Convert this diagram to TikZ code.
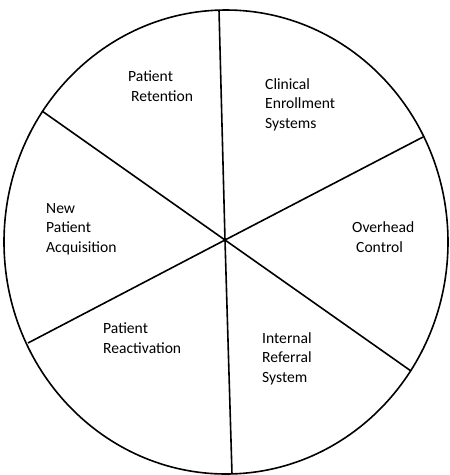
\documentclass[tikz,border=0pt]{standalone}
\usepackage{fontspec}
\setmainfont{Carlito}
\begin{document}
\begin{tikzpicture}[x=1pt,y=-1pt,
  rim/.style={line width=1.6pt},
  spoke/.style={line width=1.6pt},
  lbl/.style={anchor=base west,inner sep=0pt,align=left,
    font=\fontsize{15.6}{19.5}\selectfont}]
\useasboundingbox (0,0) rectangle (450,475);
\draw[rim] (226,242) ellipse [x radius=222, y radius=232];
\coordinate (c) at (225,240);
\coordinate (pt) at (219,10);
\coordinate (pb) at (232,474);
\coordinate (pul) at (42,111);
\coordinate (pll) at (28,343);
\coordinate (pur) at (423,137);
\coordinate (plr) at (411,371);
\draw[spoke] (c) -- (pt);
\draw[spoke] (c) -- (pb);
\draw[spoke] (c) -- (pul);
\draw[spoke] (c) -- (pll);
\draw[spoke] (c) -- (pur);
\draw[spoke] (c) -- (plr);
\node[lbl] (ret) at (128,101) {Patient\\\hspace{3pt}Retention};
\node[lbl] (cli) at (265,128) {Clinical\\Enrollment\\Systems};
\node[lbl] (new) at (46,252) {New\\Patient\\Acquisition};
\node[lbl] (ovh) at (352,252) {Overhead\\\hspace{4pt}Control};
\node[lbl] (int) at (262,382) {Internal\\Referral\\System};
\node[lbl] (rea) at (103,353) {Patient\\Reactivation};
\end{tikzpicture}
\end{document}
